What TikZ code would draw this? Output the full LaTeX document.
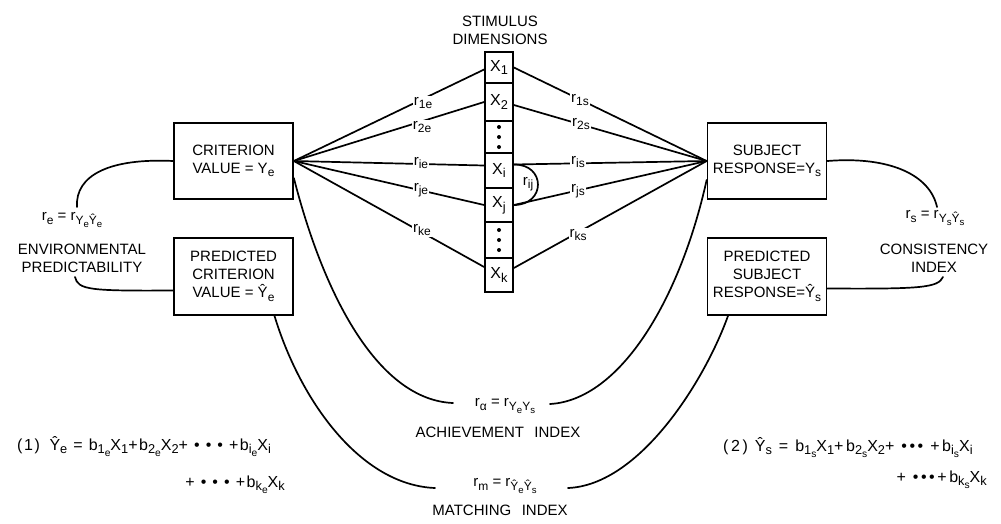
\documentclass[tikz,border=0pt]{standalone}
\usepackage{fontspec}
\usepackage{graphicx}
\setmainfont{Liberation Sans}
\usetikzlibrary{calc}
\newcommand\sbx[1]{\raisebox{-0.45ex}{\scalebox{0.8}{#1}}}
\begin{document}
\begin{tikzpicture}[x=1pt,y=-1pt,
  every node/.style={font=\fontsize{15}{18}\selectfont, inner sep=0pt},
  ln/.style={line width=1.7pt, line cap=round},
  box/.style={draw, line width=1.7pt, minimum width=119pt, minimum height=76pt, align=center},
  cell/.style={draw, line width=1.7pt, minimum width=28pt, font=\fontsize{16}{18}\selectfont},
  lbl/.style={fill=white, inner sep=1pt},
  txt/.style={align=center},
  eqn/.style={font=\fontsize{16}{18}\selectfont\addfontfeature{LetterSpace=10}},
  eqnb/.style={font=\fontsize{16}{18}\selectfont\addfontfeature{LetterSpace=16}}]
\useasboundingbox (0,0) rectangle (1001,523);

% boxes
\node[box] (crit) at (233.5,161) {CRITERION\\VALUE = Y\sbx{e}};
\node[box, minimum height=77pt] (pcrit) at (233.5,276.5) {PREDICTED\\CRITERION\\VALUE = Ŷ\sbx{e}};
\node[box] (subj) at (767,161) {SUBJECT\\RESPONSE=Y\sbx{s}};
\node[box, minimum height=77pt] (psubj) at (767,276.5) {PREDICTED\\SUBJECT\\RESPONSE=Ŷ\sbx{s}};

% stimulus column
\node[txt] (stim) at (500,30) {STIMULUS\\DIMENSIONS};
\node[cell, minimum height=31pt] (c1) at (499,67.5) {X\sbx{1}};
\node[cell, minimum height=38pt] (c2) at (499,102) {X\sbx{2}};
\node[cell, minimum height=32pt] (d1) at (499,137) {};
\node[cell, minimum height=35pt] (ci) at (499,170.5) {X\sbx{i}};
\node[cell, minimum height=34pt] (cj) at (499,205) {X\sbx{j}};
\node[cell, minimum height=36pt] (d2) at (499,240) {};
\node[cell, minimum height=34pt] (ck) at (499,275) {X\sbx{k}};
\foreach \yy in {127,137,147,230,240,250} \fill (499,\yy) circle (2);

% lines to left hub
\draw[ln] (crit.east) -- ([yshift=-2pt]c1.west);
\draw[ln] (crit.east) -- (c2.west);
\draw[ln] (crit.east) -- ([yshift=5pt]ci.west);
\draw[ln] (crit.east) -- (cj.west);
\draw[ln] (crit.east) -- ([yshift=8pt]ck.west);
% lines to right hub
\draw[ln] (c1.east) -- (subj.west);
\draw[ln] ([yshift=-3pt]c2.east) -- (subj.west);
\draw[ln] ([yshift=6pt]ci.east) -- (subj.west);
\draw[ln] (cj.east) -- (subj.west);
\draw[ln] ([yshift=7pt]ck.east) -- (subj.west);
% rij arc
\draw[ln] ([yshift=6pt]ci.east) .. controls (546,164) and (546,205) .. (cj.east);
\node (rij) at (528,184) {r\sbx{ij}};

% line labels
\node[lbl] (l1e) at (423,103) {r\sbx{1e}};
\node[lbl] (l2e) at (422,127) {r\sbx{2e}};
\node[lbl] (lie) at (421,163) {r\sbx{ie}};
\node[lbl] (lje) at (421,190) {r\sbx{je}};
\node[lbl] (lke) at (422,230) {r\sbx{ke}};
\node[lbl] (l1s) at (580,100) {r\sbx{1s}};
\node[lbl] (l2s) at (581,124) {r\sbx{2s}};
\node[lbl] (lis) at (578,162) {r\sbx{is}};
\node[lbl] (ljs) at (578,191) {r\sbx{js}};
\node[lbl] (lks) at (578,235) {r\sbx{ks}};

% environmental predictability loop
\coordinate (le1) at (77,207);
\coordinate (le2) at (75,277);
\draw[ln] (crit.west) .. controls (110,158) and (75,175) .. (le1);
\draw[ln] (le2) .. controls (78,290) and (90,291) .. ([yshift=-14pt]pcrit.west);
\node (re) at (72,220) {r\sbx{e} = r\sbx{Y\sbx{e}Ŷ\sbx{e}}};
\node[txt] (envp) at (82,258) {ENVIRONMENTAL\\PREDICTABILITY};

% consistency loop
\coordinate (re1) at (937,207);
\coordinate (re2) at (943,277);
\draw[ln] (subj.east) .. controls (890,156) and (930,175) .. (re1);
\draw[ln] (re2) .. controls (938,288) and (920,289) .. ([yshift=-12pt]psubj.east);
\node (rs) at (935,218) {r\sbx{s} = r\sbx{Y\sbx{s}Ŷ\sbx{s}}};
\node[txt] (cons) at (934,258) {CONSISTENCY\\INDEX};

% achievement
\coordinate (ach1) at (453,403);
\coordinate (ach2) at (550,404);
\draw[ln] ([yshift=-17pt]crit.east) .. controls (325,300) and (380,400) .. (ach1);
\draw[ln] (ach2) .. controls (620,400) and (680,300) .. ([yshift=-19pt]subj.west);
\node (ra) at (505,406) {r\sbx{α} = r\sbx{Y\sbx{e}Y\sbx{s}}};
\node (achi) at (498,432) {ACHIEVEMENT\hspace{0.7em}INDEX};

% matching
\coordinate (mat1) at (435,488);
\coordinate (mat2) at (568,488);
\draw[ln] ([xshift=41pt]pcrit.south) .. controls (300,400) and (360,485) .. (mat1);
\draw[ln] (mat2) .. controls (640,485) and (705,380) .. ([xshift=-39pt]psubj.south);
\node (rm) at (505,486) {r\sbx{m} = r\sbx{Ŷ\sbx{e}Ŷ\sbx{s}}};
\node (matc) at (500,510) {MATCHING\hspace{0.7em}INDEX};

% equations
\node[eqn, anchor=base west] (eq1a) at (17,450) {(1)\hspace{0.6em}Ŷ\sbx{e} = b\sbx{1\sbx{e}}X\sbx{1}+b\sbx{2\sbx{e}}X\sbx{2}+ • • • +b\sbx{i\sbx{e}}X\sbx{i}};
\node[eqn, anchor=base east] (eq1b) at (285,487) {+ • • • +b\sbx{k\sbx{e}}X\sbx{k}};
\node[eqnb, anchor=base west] (eq2a) at (723,451) {(2) Ŷ\sbx{s} = b\sbx{1\sbx{s}}X\sbx{1}+b\sbx{2\sbx{s}}X\sbx{2}+ ••• +b\sbx{i\sbx{s}}X\sbx{i}};
\node[eqnb, anchor=base east] (eq2b) at (987,482) {+ •••+b\sbx{k\sbx{s}}X\sbx{k}};
\end{tikzpicture}
\end{document}
